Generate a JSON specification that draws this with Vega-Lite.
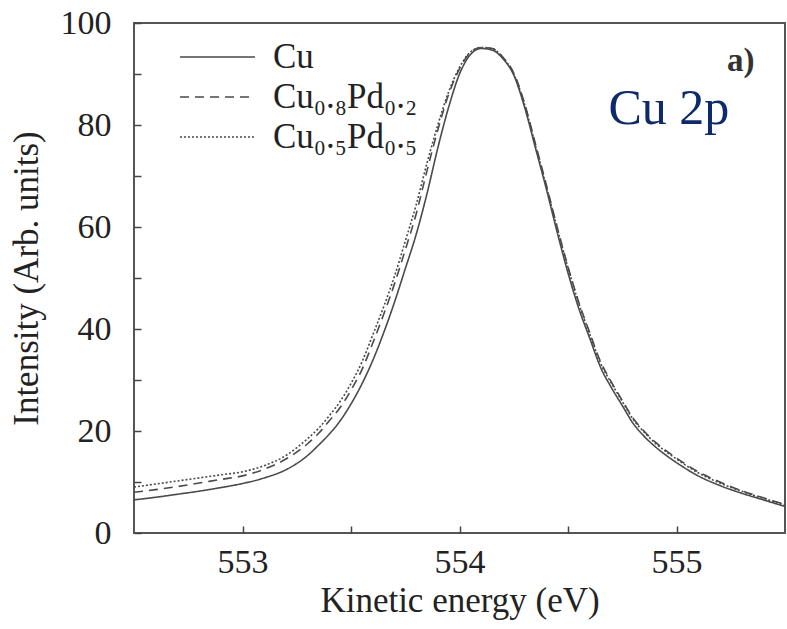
{
  "$schema": "https://vega.github.io/schema/vega-lite/v6.json",
  "width": 651,
  "height": 510,
  "autosize": {"type": "none"},
  "padding": {"left": 134, "top": 23, "right": 2, "bottom": 96},
  "background": "white",
  "config": {"view": {"stroke": "#555", "strokeWidth": 2}, "font": "Liberation Serif"},
  "datasets": {
    "spectra": [
      {"energy": 552.5, "intensity": 6.5, "sample": "Cu"},
      {"energy": 552.6, "intensity": 7.0, "sample": "Cu"},
      {"energy": 552.7, "intensity": 7.6, "sample": "Cu"},
      {"energy": 552.8, "intensity": 8.2, "sample": "Cu"},
      {"energy": 552.9, "intensity": 8.9, "sample": "Cu"},
      {"energy": 553.0, "intensity": 9.7, "sample": "Cu"},
      {"energy": 553.1, "intensity": 10.8, "sample": "Cu"},
      {"energy": 553.2, "intensity": 12.4, "sample": "Cu"},
      {"energy": 553.3, "intensity": 15.2, "sample": "Cu"},
      {"energy": 553.35, "intensity": 17.2, "sample": "Cu"},
      {"energy": 553.4, "intensity": 19.4, "sample": "Cu"},
      {"energy": 553.45, "intensity": 22.0, "sample": "Cu"},
      {"energy": 553.5, "intensity": 25.3, "sample": "Cu"},
      {"energy": 553.55, "intensity": 29.2, "sample": "Cu"},
      {"energy": 553.6, "intensity": 33.8, "sample": "Cu"},
      {"energy": 553.65, "intensity": 39.2, "sample": "Cu"},
      {"energy": 553.7, "intensity": 45.2, "sample": "Cu"},
      {"energy": 553.75, "intensity": 51.8, "sample": "Cu"},
      {"energy": 553.8, "intensity": 58.5, "sample": "Cu"},
      {"energy": 553.85, "intensity": 66.5, "sample": "Cu"},
      {"energy": 553.9, "intensity": 75.5, "sample": "Cu"},
      {"energy": 553.95, "intensity": 83.5, "sample": "Cu"},
      {"energy": 554.0, "intensity": 90.0, "sample": "Cu"},
      {"energy": 554.05, "intensity": 93.8, "sample": "Cu"},
      {"energy": 554.1, "intensity": 95.0, "sample": "Cu"},
      {"energy": 554.15, "intensity": 94.7, "sample": "Cu"},
      {"energy": 554.2, "intensity": 93.0, "sample": "Cu"},
      {"energy": 554.25, "intensity": 89.8, "sample": "Cu"},
      {"energy": 554.3, "intensity": 83.5, "sample": "Cu"},
      {"energy": 554.35, "intensity": 75.5, "sample": "Cu"},
      {"energy": 554.4, "intensity": 67.5, "sample": "Cu"},
      {"energy": 554.45, "intensity": 59.0, "sample": "Cu"},
      {"energy": 554.5, "intensity": 51.0, "sample": "Cu"},
      {"energy": 554.55, "intensity": 44.0, "sample": "Cu"},
      {"energy": 554.6, "intensity": 38.2, "sample": "Cu"},
      {"energy": 554.65, "intensity": 32.5, "sample": "Cu"},
      {"energy": 554.7, "intensity": 28.5, "sample": "Cu"},
      {"energy": 554.75, "intensity": 25.0, "sample": "Cu"},
      {"energy": 554.8, "intensity": 21.5, "sample": "Cu"},
      {"energy": 554.85, "intensity": 19.0, "sample": "Cu"},
      {"energy": 554.9, "intensity": 17.0, "sample": "Cu"},
      {"energy": 554.95, "intensity": 15.3, "sample": "Cu"},
      {"energy": 555.0, "intensity": 13.8, "sample": "Cu"},
      {"energy": 555.1, "intensity": 11.2, "sample": "Cu"},
      {"energy": 555.2, "intensity": 9.3, "sample": "Cu"},
      {"energy": 555.3, "intensity": 7.8, "sample": "Cu"},
      {"energy": 555.4, "intensity": 6.5, "sample": "Cu"},
      {"energy": 555.5, "intensity": 5.2, "sample": "Cu"},

      {"energy": 552.5, "intensity": 8.0, "sample": "Cu₀.₈Pd₀.₂"},
      {"energy": 552.6, "intensity": 8.5, "sample": "Cu₀.₈Pd₀.₂"},
      {"energy": 552.7, "intensity": 9.1, "sample": "Cu₀.₈Pd₀.₂"},
      {"energy": 552.8, "intensity": 9.8, "sample": "Cu₀.₈Pd₀.₂"},
      {"energy": 552.9, "intensity": 10.5, "sample": "Cu₀.₈Pd₀.₂"},
      {"energy": 553.0, "intensity": 11.2, "sample": "Cu₀.₈Pd₀.₂"},
      {"energy": 553.1, "intensity": 12.5, "sample": "Cu₀.₈Pd₀.₂"},
      {"energy": 553.2, "intensity": 14.5, "sample": "Cu₀.₈Pd₀.₂"},
      {"energy": 553.3, "intensity": 17.5, "sample": "Cu₀.₈Pd₀.₂"},
      {"energy": 553.35, "intensity": 19.5, "sample": "Cu₀.₈Pd₀.₂"},
      {"energy": 553.4, "intensity": 22.0, "sample": "Cu₀.₈Pd₀.₂"},
      {"energy": 553.45, "intensity": 24.6, "sample": "Cu₀.₈Pd₀.₂"},
      {"energy": 553.5, "intensity": 28.0, "sample": "Cu₀.₈Pd₀.₂"},
      {"energy": 553.55, "intensity": 32.0, "sample": "Cu₀.₈Pd₀.₂"},
      {"energy": 553.6, "intensity": 37.2, "sample": "Cu₀.₈Pd₀.₂"},
      {"energy": 553.65, "intensity": 42.8, "sample": "Cu₀.₈Pd₀.₂"},
      {"energy": 553.7, "intensity": 48.8, "sample": "Cu₀.₈Pd₀.₂"},
      {"energy": 553.75, "intensity": 55.5, "sample": "Cu₀.₈Pd₀.₂"},
      {"energy": 553.8, "intensity": 62.5, "sample": "Cu₀.₈Pd₀.₂"},
      {"energy": 553.85, "intensity": 71.0, "sample": "Cu₀.₈Pd₀.₂"},
      {"energy": 553.9, "intensity": 79.0, "sample": "Cu₀.₈Pd₀.₂"},
      {"energy": 553.95, "intensity": 86.0, "sample": "Cu₀.₈Pd₀.₂"},
      {"energy": 554.0, "intensity": 91.0, "sample": "Cu₀.₈Pd₀.₂"},
      {"energy": 554.05, "intensity": 94.2, "sample": "Cu₀.₈Pd₀.₂"},
      {"energy": 554.1, "intensity": 95.2, "sample": "Cu₀.₈Pd₀.₂"},
      {"energy": 554.15, "intensity": 95.0, "sample": "Cu₀.₈Pd₀.₂"},
      {"energy": 554.2, "intensity": 93.3, "sample": "Cu₀.₈Pd₀.₂"},
      {"energy": 554.25, "intensity": 90.2, "sample": "Cu₀.₈Pd₀.₂"},
      {"energy": 554.3, "intensity": 84.2, "sample": "Cu₀.₈Pd₀.₂"},
      {"energy": 554.35, "intensity": 76.3, "sample": "Cu₀.₈Pd₀.₂"},
      {"energy": 554.4, "intensity": 68.3, "sample": "Cu₀.₈Pd₀.₂"},
      {"energy": 554.45, "intensity": 60.0, "sample": "Cu₀.₈Pd₀.₂"},
      {"energy": 554.5, "intensity": 52.2, "sample": "Cu₀.₈Pd₀.₂"},
      {"energy": 554.55, "intensity": 45.2, "sample": "Cu₀.₈Pd₀.₂"},
      {"energy": 554.6, "intensity": 39.3, "sample": "Cu₀.₈Pd₀.₂"},
      {"energy": 554.65, "intensity": 33.6, "sample": "Cu₀.₈Pd₀.₂"},
      {"energy": 554.7, "intensity": 29.6, "sample": "Cu₀.₈Pd₀.₂"},
      {"energy": 554.75, "intensity": 26.0, "sample": "Cu₀.₈Pd₀.₂"},
      {"energy": 554.8, "intensity": 22.5, "sample": "Cu₀.₈Pd₀.₂"},
      {"energy": 554.85, "intensity": 20.0, "sample": "Cu₀.₈Pd₀.₂"},
      {"energy": 554.9, "intensity": 17.9, "sample": "Cu₀.₈Pd₀.₂"},
      {"energy": 554.95, "intensity": 16.2, "sample": "Cu₀.₈Pd₀.₂"},
      {"energy": 555.0, "intensity": 14.7, "sample": "Cu₀.₈Pd₀.₂"},
      {"energy": 555.1, "intensity": 12.0, "sample": "Cu₀.₈Pd₀.₂"},
      {"energy": 555.2, "intensity": 10.0, "sample": "Cu₀.₈Pd₀.₂"},
      {"energy": 555.3, "intensity": 8.3, "sample": "Cu₀.₈Pd₀.₂"},
      {"energy": 555.4, "intensity": 6.9, "sample": "Cu₀.₈Pd₀.₂"},
      {"energy": 555.5, "intensity": 5.6, "sample": "Cu₀.₈Pd₀.₂"},

      {"energy": 552.5, "intensity": 9.0, "sample": "Cu₀.₅Pd₀.₅"},
      {"energy": 552.6, "intensity": 9.6, "sample": "Cu₀.₅Pd₀.₅"},
      {"energy": 552.7, "intensity": 10.2, "sample": "Cu₀.₅Pd₀.₅"},
      {"energy": 552.8, "intensity": 10.8, "sample": "Cu₀.₅Pd₀.₅"},
      {"energy": 552.9, "intensity": 11.4, "sample": "Cu₀.₅Pd₀.₅"},
      {"energy": 553.0, "intensity": 12.0, "sample": "Cu₀.₅Pd₀.₅"},
      {"energy": 553.1, "intensity": 13.2, "sample": "Cu₀.₅Pd₀.₅"},
      {"energy": 553.2, "intensity": 15.2, "sample": "Cu₀.₅Pd₀.₅"},
      {"energy": 553.3, "intensity": 18.5, "sample": "Cu₀.₅Pd₀.₅"},
      {"energy": 553.35, "intensity": 20.5, "sample": "Cu₀.₅Pd₀.₅"},
      {"energy": 553.4, "intensity": 23.0, "sample": "Cu₀.₅Pd₀.₅"},
      {"energy": 553.45, "intensity": 25.8, "sample": "Cu₀.₅Pd₀.₅"},
      {"energy": 553.5, "intensity": 29.3, "sample": "Cu₀.₅Pd₀.₅"},
      {"energy": 553.55, "intensity": 33.5, "sample": "Cu₀.₅Pd₀.₅"},
      {"energy": 553.6, "intensity": 38.8, "sample": "Cu₀.₅Pd₀.₅"},
      {"energy": 553.65, "intensity": 44.3, "sample": "Cu₀.₅Pd₀.₅"},
      {"energy": 553.7, "intensity": 50.3, "sample": "Cu₀.₅Pd₀.₅"},
      {"energy": 553.75, "intensity": 57.2, "sample": "Cu₀.₅Pd₀.₅"},
      {"energy": 553.8, "intensity": 64.3, "sample": "Cu₀.₅Pd₀.₅"},
      {"energy": 553.85, "intensity": 72.5, "sample": "Cu₀.₅Pd₀.₅"},
      {"energy": 553.9, "intensity": 80.0, "sample": "Cu₀.₅Pd₀.₅"},
      {"energy": 553.95, "intensity": 86.5, "sample": "Cu₀.₅Pd₀.₅"},
      {"energy": 554.0, "intensity": 91.3, "sample": "Cu₀.₅Pd₀.₅"},
      {"energy": 554.05, "intensity": 94.3, "sample": "Cu₀.₅Pd₀.₅"},
      {"energy": 554.1, "intensity": 95.2, "sample": "Cu₀.₅Pd₀.₅"},
      {"energy": 554.15, "intensity": 95.0, "sample": "Cu₀.₅Pd₀.₅"},
      {"energy": 554.2, "intensity": 93.2, "sample": "Cu₀.₅Pd₀.₅"},
      {"energy": 554.25, "intensity": 90.0, "sample": "Cu₀.₅Pd₀.₅"},
      {"energy": 554.3, "intensity": 84.0, "sample": "Cu₀.₅Pd₀.₅"},
      {"energy": 554.35, "intensity": 76.0, "sample": "Cu₀.₅Pd₀.₅"},
      {"energy": 554.4, "intensity": 68.0, "sample": "Cu₀.₅Pd₀.₅"},
      {"energy": 554.45, "intensity": 59.8, "sample": "Cu₀.₅Pd₀.₅"},
      {"energy": 554.5, "intensity": 52.0, "sample": "Cu₀.₅Pd₀.₅"},
      {"energy": 554.55, "intensity": 45.0, "sample": "Cu₀.₅Pd₀.₅"},
      {"energy": 554.6, "intensity": 39.0, "sample": "Cu₀.₅Pd₀.₅"},
      {"energy": 554.65, "intensity": 33.3, "sample": "Cu₀.₅Pd₀.₅"},
      {"energy": 554.7, "intensity": 29.4, "sample": "Cu₀.₅Pd₀.₅"},
      {"energy": 554.75, "intensity": 25.8, "sample": "Cu₀.₅Pd₀.₅"},
      {"energy": 554.8, "intensity": 22.3, "sample": "Cu₀.₅Pd₀.₅"},
      {"energy": 554.85, "intensity": 19.8, "sample": "Cu₀.₅Pd₀.₅"},
      {"energy": 554.9, "intensity": 17.7, "sample": "Cu₀.₅Pd₀.₅"},
      {"energy": 554.95, "intensity": 16.0, "sample": "Cu₀.₅Pd₀.₅"},
      {"energy": 555.0, "intensity": 14.5, "sample": "Cu₀.₅Pd₀.₅"},
      {"energy": 555.1, "intensity": 11.8, "sample": "Cu₀.₅Pd₀.₅"},
      {"energy": 555.2, "intensity": 9.8, "sample": "Cu₀.₅Pd₀.₅"},
      {"energy": 555.3, "intensity": 8.2, "sample": "Cu₀.₅Pd₀.₅"},
      {"energy": 555.4, "intensity": 6.8, "sample": "Cu₀.₅Pd₀.₅"},
      {"energy": 555.5, "intensity": 5.5, "sample": "Cu₀.₅Pd₀.₅"}
    ]
  },
  "data": {"name": "spectra"},
  "layer": [
    {
      "mark": {"type": "line", "interpolate": "monotone", "strokeWidth": 1.6, "color": "#4a4a4a", "clip": true},
      "encoding": {
        "x": {
          "field": "energy", "type": "quantitative",
          "scale": {"domain": [552.5, 555.5], "nice": false, "zero": false},
          "axis": {
            "orient": "bottom", "title": "Kinetic energy (eV)", "offset": -7, "domain": false,
            "values": [553, 553.5, 554, 554.5, 555],
            "labelExpr": "datum.value % 1 == 0 ? format(datum.value, 'd') : ''",
            "grid": false, "ticks": true,
            "tickColor": "#444", "tickSize": 7, "tickWidth": 1.5, "tickOpacity": 1,
            "labelFont": "Liberation Serif", "labelFontSize": 34, "labelColor": "#222", "labelPadding": 12,
            "titleFont": "Liberation Serif", "titleFontSize": 35, "titleFontWeight": "normal", "titleColor": "#222", "titlePadding": 4
          }
        },
        "y": {
          "field": "intensity", "type": "quantitative",
          "scale": {"domain": [0, 100], "nice": false},
          "axis": {
            "orient": "left", "title": "Intensity (Arb. units)", "offset": -7, "domain": false,
            "values": [0, 10, 20, 30, 40, 50, 60, 70, 80, 90, 100],
            "labelExpr": "datum.value % 20 == 0 ? datum.label : ''",
            "grid": false, "ticks": true,
            "tickColor": "#444", "tickSize": 7, "tickWidth": 1.5, "tickOpacity": 1,
            "labelFont": "Liberation Serif", "labelFontSize": 34, "labelColor": "#222", "labelPadding": 23,
            "titleFont": "Liberation Serif", "titleFontSize": 35, "titleFontWeight": "normal", "titleColor": "#222", "titlePadding": 16
          }
        },
        "strokeDash": {
          "field": "sample", "type": "nominal",
          "scale": {"domain": ["Cu", "Cu₀.₈Pd₀.₂", "Cu₀.₅Pd₀.₅"], "range": [[1, 0], [9, 6], [2, 2]]},
          "legend": {
            "orient": "none", "legendX": 45, "legendY": 14, "title": null,
            "symbolType": "stroke", "symbolSize": 5625, "symbolStrokeWidth": 1.6, "symbolStrokeColor": "#4a4a4a",
            "labelFont": "Liberation Serif", "labelFontSize": 35, "labelColor": "#222",
            "labelOffset": 17, "rowPadding": 0, "clipHeight": 40
          }
        }
      }
    },
    {
      "data": {"values": [{"label": "a)"}]},
      "mark": {"type": "text", "font": "Liberation Serif", "fontSize": 33, "fontWeight": "bold", "color": "#333", "align": "right", "baseline": "alphabetic"},
      "encoding": {
        "text": {"field": "label"},
        "x": {"datum": 555.36, "type": "quantitative"},
        "y": {"datum": 90.5, "type": "quantitative"}
      }
    },
    {
      "data": {"values": [{"label": "Cu 2p"}]},
      "mark": {"type": "text", "font": "Liberation Serif", "fontSize": 50, "color": "#0f2a6b", "align": "center", "baseline": "alphabetic"},
      "encoding": {
        "text": {"field": "label"},
        "x": {"datum": 554.965, "type": "quantitative"},
        "y": {"datum": 80.2, "type": "quantitative"}
      }
    }
  ]
}
